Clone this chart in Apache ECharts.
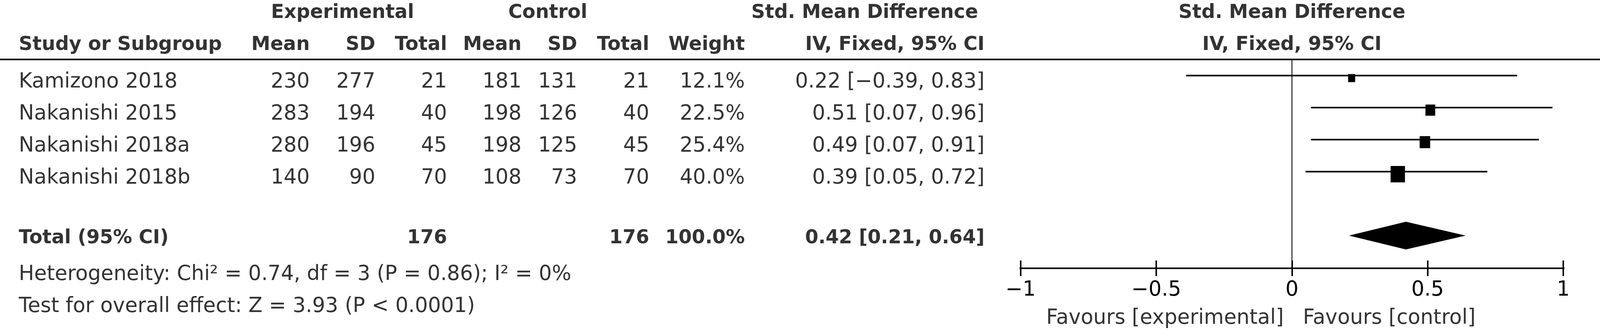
<!DOCTYPE html>
<html>
<head>
<meta charset="utf-8">
<script src="https://cdn.jsdelivr.net/npm/echarts@6/dist/echarts.min.js"></script>
<style>
  html, body { margin: 0; padding: 0; background: #fff; overflow: hidden; }
  #forest { width: 100vw; height: 100vh; }
</style>
</head>
<body>
<div id="forest"></div>
<script>
// ---- data ----
const studies = ['Kamizono 2018', 'Nakanishi 2015', 'Nakanishi 2018a', 'Nakanishi 2018b'];
const expMean = [230, 283, 280, 140];
const expSD = [277, 194, 196, 90];
const expTotal = [21, 40, 45, 70];
const ctrlMean = [181, 198, 198, 108];
const ctrlSD = [131, 126, 125, 73];
const ctrlTotal = [21, 40, 45, 70];
const weights = [12.1, 22.5, 25.4, 40.0];
const smd = [0.22, 0.51, 0.49, 0.39];
const ciLow = [-0.39, 0.07, 0.07, 0.05];
const ciHigh = [0.83, 0.96, 0.91, 0.72];

const totalExp = 176;
const totalCtrl = 176;
const totalWeight = 100.0;
const pooled = [0.42, 0.21, 0.64];   // estimate, low, high

const groupHeaders = ['Experimental', 'Control', 'Std. Mean Difference', 'Std. Mean Difference'];
const columnHeaders = ['Study or Subgroup', 'Mean', 'SD', 'Total', 'Mean', 'SD', 'Total', 'Weight',
  'IV, Fixed, 95% CI', 'IV, Fixed, 95% CI'];
const heterogeneityText = 'Heterogeneity: Chi\u00b2 = 0.74, df = 3 (P = 0.86); I\u00b2 = 0%';
const overallText = 'Test for overall effect: Z = 3.93 (P < 0.0001)';
const favourLabels = ['Favours [experimental]', 'Favours [control]'];
const xTicks = [-1, -0.5, 0, 0.5, 1];

// ---- layout, in pixels of the 4685 x 845 figure ----
const W = 4685, H = 845;
const FIRST_ROW_Y = 203, ROW_PITCH = 82;
const AXIS_Y = 687;
const ROW_GROUP = -2.15, ROW_HEAD = -1.16, ROW_RULE = -0.62;
const ROW_TOTAL = 4.88, ROW_HET = 6.02, ROW_TEST = 7.02, ROW_FAVOUR = 7.38;
const STUDY_X = 55;
const colRight = [907, 1099, 1309, 1527, 1690, 1901, 2181, 2883];
const groupCenter = [1003, 1604, 2532];
const PLOT_LEFT = 2988.5, PLOT_WIDTH = 1589;

const FONT = 'DejaVu Sans';
const FS = 60, FS_BOLD = 56;
const TEXT_DROP = 7;   // label middle sits a little above the cap centre

let el = document.getElementById('forest');
let chart = echarts.init(el);
// the window can be narrower than the figure: scale x and y separately
const SX = chart.getWidth() / W;
const SY = chart.getHeight() / H;
const px = v => v * SX;
const py = v => v * SY;

const yMin = -FIRST_ROW_Y / ROW_PITCH;
const yMaxTable = (H - FIRST_ROW_Y) / ROW_PITCH;
const yMaxPlot = (AXIS_Y - FIRST_ROW_Y) / ROW_PITCH;

const minus = v => (v < 0 ? '\u2212' + Math.abs(v) : String(v));
const fmt2 = v => (v < 0 ? '\u2212' + Math.abs(v).toFixed(2) : v.toFixed(2));
const ciText = (e, l, h) => fmt2(e) + ' [' + fmt2(l) + ', ' + fmt2(h) + ']';

function item(x, y, text) {
  return { name: text, value: [x, y] };
}

function textSeries(items, align, bold, grid, gap) {
  return {
    type: 'scatter',
    xAxisIndex: grid,
    yAxisIndex: grid,
    symbolSize: 0,
    clip: false,
    silent: true,
    data: items,
    label: {
      show: true,
      position: align === 'right' ? 'left' : (align === 'left' ? 'right' : 'inside'),
      distance: px(gap || 0),
      offset: [0, py(TEXT_DROP)],
      formatter: '{b}',
      color: '#000',
      fontFamily: FONT,
      fontSize: px(bold ? FS_BOLD : FS),
      fontWeight: bold ? 'bold' : 'normal'
    }
  };
}

// table body, right aligned numeric cells
let bodyRight = [];
studies.forEach((s, i) => {
  const cells = [expMean[i], expSD[i], expTotal[i], ctrlMean[i], ctrlSD[i], ctrlTotal[i],
    weights[i].toFixed(1) + '%', ciText(smd[i], ciLow[i], ciHigh[i])];
  cells.forEach((c, j) => bodyRight.push(item(colRight[j], i, String(c))));
});

let bodyLeft = studies.map((s, i) => item(STUDY_X, i, s));
bodyLeft.push(item(STUDY_X, ROW_HET, heterogeneityText));
bodyLeft.push(item(STUDY_X, ROW_TEST, overallText));

let headLeft = [item(STUDY_X, ROW_HEAD, columnHeaders[0]),
  item(STUDY_X, ROW_TOTAL, 'Total (95% CI)')];
let headRight = columnHeaders.slice(1, 9).map((h, j) => item(colRight[j], ROW_HEAD, h));
headRight.push(item(colRight[2], ROW_TOTAL, String(totalExp)));
headRight.push(item(colRight[5], ROW_TOTAL, String(totalCtrl)));
headRight.push(item(colRight[6], ROW_TOTAL, totalWeight.toFixed(1) + '%'));
headRight.push(item(colRight[7], ROW_TOTAL, ciText(pooled[0], pooled[1], pooled[2])));
let headCenter = groupHeaders.slice(0, 3).map((h, j) => item(groupCenter[j], ROW_GROUP, h));

// forest plot headers and favour labels sit on the effect axis at 0
let plotHead = [item(0, ROW_GROUP, groupHeaders[3]), item(0, ROW_HEAD, columnHeaders[9])];
let favourLeft = [item(0, ROW_FAVOUR, favourLabels[0])];
let favourRight = [item(0, ROW_FAVOUR, favourLabels[1])];

function effectAxis(inside) {
  return {
    gridIndex: 1, type: 'value', min: xTicks[0], max: xTicks[xTicks.length - 1], interval: 0.5,
    position: 'bottom',
    axisLine: { show: false, onZero: false },
    axisTick: { show: true, inside: inside, length: py(20), lineStyle: { color: '#000', width: px(4.5) } },
    axisLabel: {
      show: !inside, margin: py(30), color: '#000', fontFamily: FONT, fontSize: px(FS),
      formatter: minus
    },
    splitLine: { show: false }
  };
}

let option = {
  animation: false,
  backgroundColor: '#fff',
  grid: [
    { left: 0, top: 0, width: px(W), height: py(H) },
    { left: px(PLOT_LEFT), top: 0, width: px(PLOT_WIDTH), height: py(AXIS_Y) }
  ],
  xAxis: [
    { gridIndex: 0, type: 'value', min: 0, max: W, show: false },
    effectAxis(false),
    effectAxis(true)
  ],
  yAxis: [
    { gridIndex: 0, type: 'value', inverse: true, min: yMin, max: yMaxTable, show: false },
    { gridIndex: 1, type: 'value', inverse: true, min: yMin, max: yMaxPlot, show: false }
  ],
  series: [
    // rule under the header
    {
      type: 'line', xAxisIndex: 0, yAxisIndex: 0, symbol: 'none', silent: true,
      data: [[0, ROW_RULE], [W, ROW_RULE]],
      lineStyle: { color: '#000', width: py(4) }
    },
    // line of no effect
    {
      type: 'line', xAxisIndex: 1, yAxisIndex: 1, symbol: 'none', silent: true, clip: false,
      data: [[0, ROW_RULE], [0, yMaxPlot]],
      lineStyle: { color: '#000', width: px(2.5) }
    },
    // x axis line, a little longer than the tick range
    {
      type: 'line', xAxisIndex: 1, yAxisIndex: 1, symbol: 'none', silent: true, clip: false,
      data: [[-1.0625, yMaxPlot], [1.0625, yMaxPlot]],
      lineStyle: { color: '#000', width: py(4) }
    },
    // study CIs and weight boxes
    {
      type: 'custom', xAxisIndex: 1, yAxisIndex: 1, silent: true,
      data: studies.map((s, i) => [smd[i], ciLow[i], ciHigh[i], i, weights[i]]),
      renderItem: function (params, api) {
        const row = api.value(3);
        const a = api.coord([api.value(1), row]);
        const b = api.coord([api.value(2), row]);
        const c = api.coord([api.value(0), row]);
        const size = 11.4 + 0.765 * api.value(4);
        const lineY = c[1] - py(9.5);
        const boxY = c[1] - py(3);
        return {
          type: 'group',
          children: [
            { type: 'line', shape: { x1: a[0], y1: lineY, x2: b[0], y2: lineY },
              style: { stroke: '#000', lineWidth: py(4) } },
            { type: 'rect',
              shape: { x: c[0] - px(size) / 2, y: boxY - py(size) / 2, width: px(size), height: py(size) },
              style: { fill: '#000' } }
          ]
        };
      }
    },
    // pooled diamond
    {
      type: 'custom', xAxisIndex: 1, yAxisIndex: 1, silent: true,
      data: [[pooled[0], pooled[1], pooled[2], ROW_TOTAL]],
      renderItem: function (params, api) {
        const row = api.value(3);
        const l = api.coord([api.value(1), row]);
        const r = api.coord([api.value(2), row]);
        const c = api.coord([api.value(0), row]);
        const h = py(35.5);
        return {
          type: 'polygon',
          shape: { points: [[l[0], c[1]], [c[0], c[1] - h], [r[0], c[1]], [c[0], c[1] + h]] },
          style: { fill: '#000' }
        };
      }
    },
    textSeries(bodyRight, 'right', false, 0),
    textSeries(bodyLeft, 'left', false, 0),
    textSeries(headLeft, 'left', true, 0),
    textSeries(headRight, 'right', true, 0),
    textSeries(headCenter, 'center', true, 0),
    textSeries(plotHead, 'center', true, 1),
    textSeries(favourLeft, 'right', false, 1, 24),
    textSeries(favourRight, 'left', false, 1, 32)
  ]
};

chart.setOption(option);
</script>
</body>
</html>
